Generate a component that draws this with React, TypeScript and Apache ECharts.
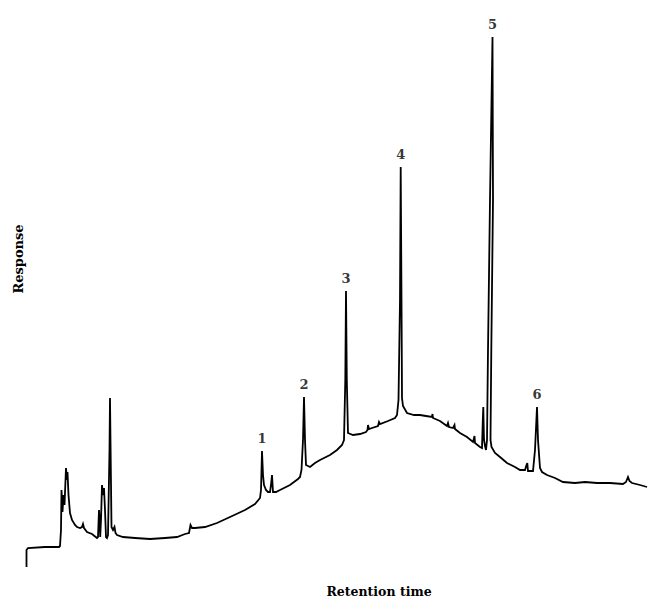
import React, { useEffect, useRef } from "react";
import * as echarts from "echarts";

// Chromatogram trace: retention time (arbitrary units) and detector response (arbitrary units)
const retentionTime: number[] = [
  0.5, 0.5, 2, 19, 33, 34, 35, 35.5, 36.5, 37.5, 38.5, 40, 41, 41.5, 42.5, 44, 46, 49, 51, 54, 56, 57, 58, 61,
  66, 71, 72, 73, 73.7, 74.2, 75, 76, 77, 78, 79, 80, 81, 82, 83.5, 84, 84.6, 85.5, 87, 88.5, 89.5, 91, 97,
  109, 124, 139, 151, 159, 163, 164.5, 166, 169, 179, 191, 204, 219, 229, 234, 235, 236, 237, 238, 240, 242,
  244, 245, 246, 247, 250, 254, 264, 272, 274, 275.5, 277, 278, 279, 280, 284, 289, 294, 304, 311, 316, 318,
  319.3, 320, 320.8, 322, 327, 334, 340, 341.5, 342, 343, 346, 352, 353, 354, 362, 369, 371, 372.5, 374,
  374.7, 375.5, 376, 377, 381, 388, 394, 400, 406, 406.5, 407, 414, 421, 422, 423, 427, 428.5, 429, 434, 441,
  447, 448.5, 449, 454, 456, 456.8, 457.3, 458, 459, 460, 461, 462, 464, 466.5, 467, 465.3, 464.5, 465.5,
  469, 474, 481, 489, 494, 499, 500.5, 501.3, 502, 507, 509, 511, 512, 514, 516, 521, 529, 537, 549, 559,
  571, 584, 597, 600, 602, 603.5, 606, 614, 621,
];
const response: number[] = [
  0, 17, 19, 20, 20, 21, 37, 77, 55, 72, 62, 99, 87, 95, 72, 54, 47, 42, 40, 39, 40, 43, 39, 35, 33, 29, 30,
  57, 47, 30, 47, 82, 72, 79, 57, 30, 29, 32, 117, 169, 117, 40, 37, 40, 34, 32, 30, 29, 28, 29, 30, 33, 34,
  42, 39, 39, 40, 44, 50, 57, 63, 69, 77, 116, 92, 82, 77, 75, 75, 82, 92, 75, 75, 77, 82, 88, 90, 97, 127,
  170, 127, 102, 100, 104, 107, 112, 117, 122, 127, 187, 276, 187, 134, 132, 133, 135, 137, 142, 138, 139,
  141, 145, 143, 146, 149, 152, 167, 267, 400, 267, 169, 161, 154, 152, 152, 151, 150, 153, 149, 146, 141,
  144, 140, 139, 142, 138, 134, 130, 125, 131, 124, 120, 119, 147, 160, 127, 121, 117, 127, 217, 367,
  530, 367, 217, 127, 120, 114, 110, 104, 100, 97, 97, 102, 104, 96, 96, 117, 160, 127, 99, 95, 92, 89, 85,
  84, 85, 84, 84, 83, 85, 90, 86, 84, 82, 80,
];

// Labelled peaks
const peakLabels: string[] = ["1", "2", "3", "4", "5", "6"];
const peakTime: number[] = [236, 278, 320, 374.7, 466.5, 511];
const peakResponse: number[] = [116, 170, 276, 400, 530, 160];

const xTitle = "Retention time";
const yTitle = "Response";

export default function App() {
  const ref = useRef<HTMLDivElement>(null);
  useEffect(() => {
    if (!ref.current) return;
    const chart = echarts.init(ref.current, undefined, { renderer: "svg" });
    const trace = retentionTime.map((t, i) => [t, response[i]]);
    const peaks = peakTime.map((t, i) => ({ value: [t, peakResponse[i]], name: peakLabels[i] }));
    chart.setOption({
      animation: false,
      backgroundColor: "#ffffff",
      grid: { left: 26, right: 1, top: 0, bottom: 37, containLabel: false },
      xAxis: {
        type: "value",
        min: 0,
        max: 621,
        show: false,
      },
      yAxis: {
        type: "value",
        min: 0,
        max: 567,
        show: false,
      },
      series: [
        {
          type: "line",
          data: trace,
          symbol: "none",
          smooth: false,
          clip: false,
          lineStyle: { color: "#000000", width: 1.8, join: "miter" },
        },
        {
          type: "scatter",
          data: peaks,
          symbolSize: 0,
          clip: false,
          label: {
            show: true,
            position: "top",
            distance: 6,
            formatter: (p: any) => p.name,
            fontFamily: "DejaVu Serif",
            fontWeight: "bold",
            fontSize: 13,
            color: "#000000",
          },
        },
      ],
      graphic: [
        {
          type: "text",
          x: 379,
          y: 591,
          style: {
            text: xTitle,
            fontFamily: "DejaVu Serif",
            fontWeight: "bold",
            fontSize: 12.5,
            fill: "#000000",
            textAlign: "center",
            textVerticalAlign: "middle",
          },
        },
        {
          type: "text",
          x: 18,
          y: 259,
          rotation: Math.PI / 2,
          style: {
            text: yTitle,
            fontFamily: "DejaVu Serif",
            fontWeight: "bold",
            fontSize: 13,
            fill: "#000000",
            textAlign: "center",
            textVerticalAlign: "middle",
          },
        },
      ],
    });
    return () => chart.dispose();
  }, []);
  return (
    <div
      ref={ref}
      style={{ position: "fixed", left: 0, top: 0, width: 648, height: 604 }}
    />
  );
}
